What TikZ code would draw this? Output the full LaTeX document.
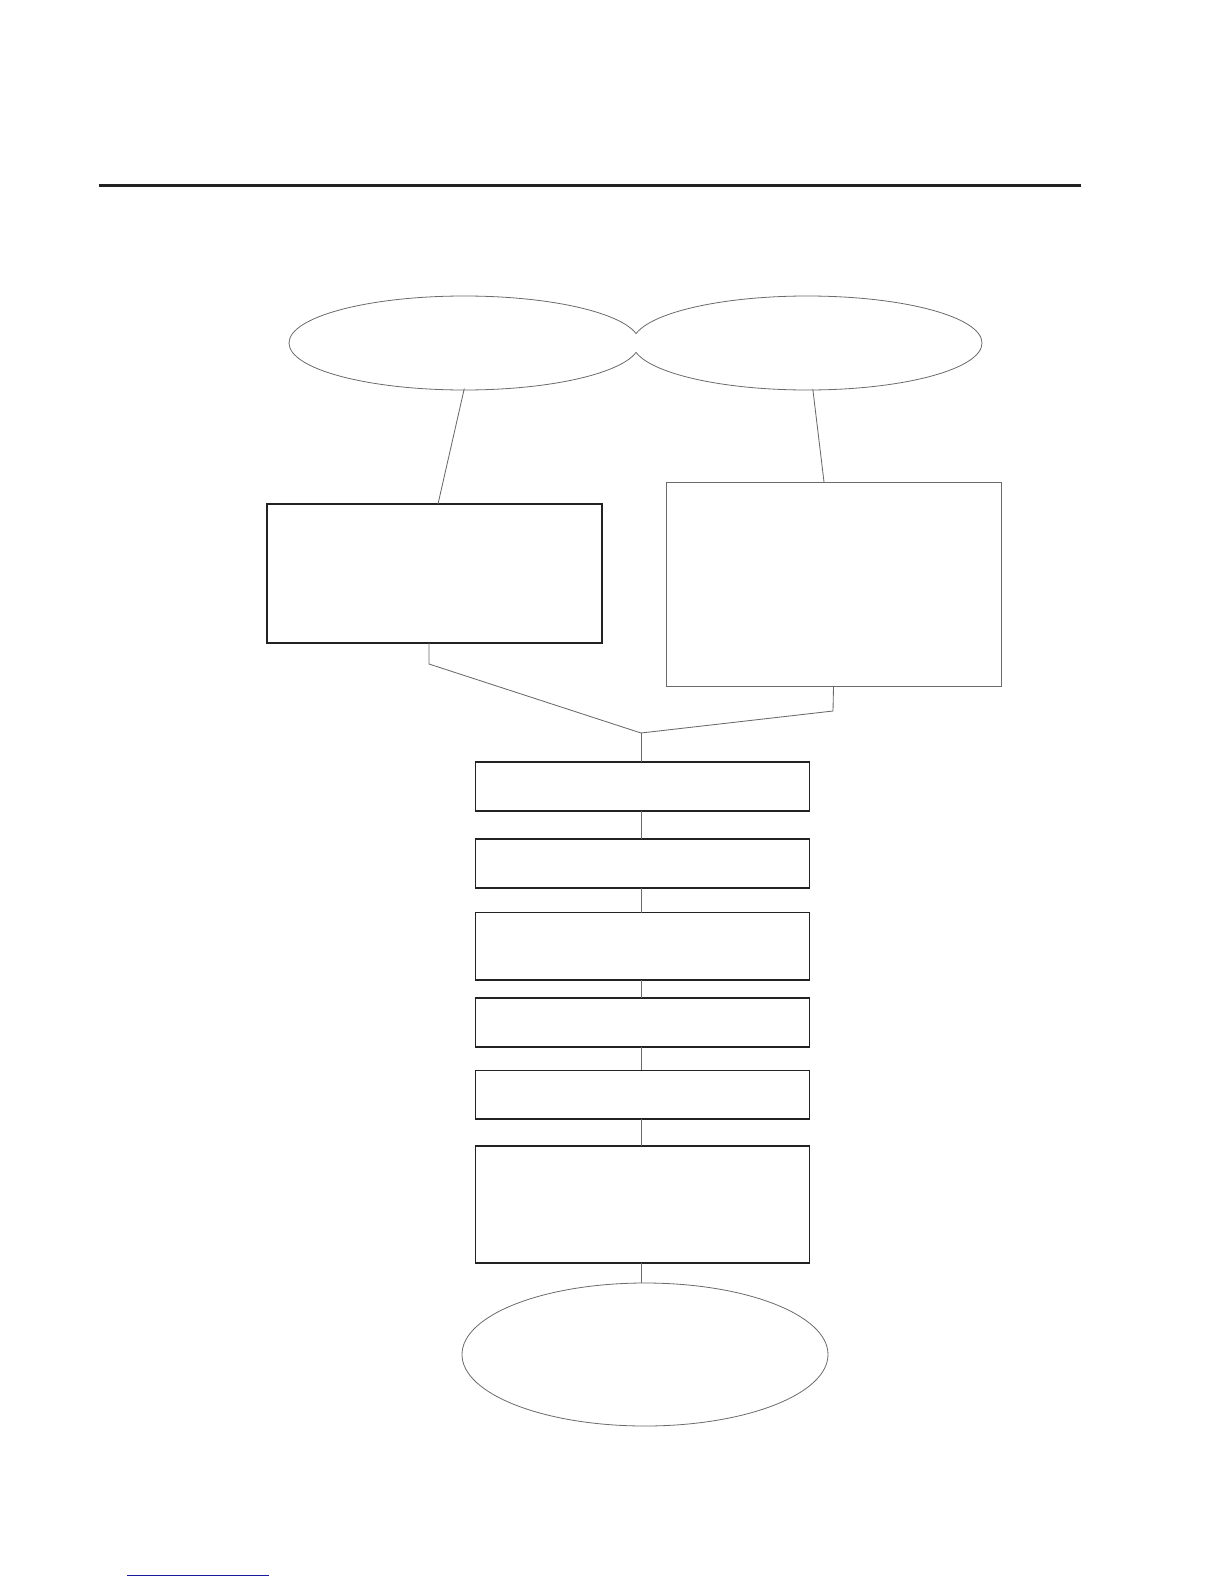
\documentclass[tikz,border=0pt]{standalone}
\usetikzlibrary{shapes.geometric}
\definecolor{ink}{HTML}{222222}
\definecolor{thin}{HTML}{6A6A6A}
\definecolor{linkblue}{HTML}{1A1AA0}
\tikzset{
  oval/.style={ellipse, draw=thin, line width=0.8pt, inner sep=0pt, outer sep=0pt},
  darkbox/.style={rectangle, draw=ink, line width=1.3pt, inner sep=0pt, outer sep=0pt},
  lightbox/.style={rectangle, draw=thin, line width=0.9pt, inner sep=0pt, outer sep=0pt},
  link/.style={draw=thin, line width=0.85pt},
}
\begin{document}
\begin{tikzpicture}[x=1pt,y=-1pt]
\useasboundingbox (0,0) rectangle (1224,1584);
% top rule
\coordinate (ruleL) at (99,185.3);
\coordinate (ruleR) at (1081,185.3);
\draw[ink, line width=3pt] (ruleL) -- (ruleR);
% ellipses (each one's outline hidden inside the other)
\begin{scope}[even odd rule]
  \clip (0,0) rectangle (1224,1584) (807.3,343) ellipse [x radius=174.7, y radius=47];
  \node[oval, minimum width=350.6pt, minimum height=94pt] (elL) at (464.3,343) {};
\end{scope}
\begin{scope}[even odd rule]
  \clip (0,0) rectangle (1224,1584) (464.3,343) ellipse [x radius=175.3, y radius=47];
  \node[oval, minimum width=349.4pt, minimum height=94pt] (elR) at (807.3,343) {};
\end{scope}
% upper boxes
\node[darkbox, minimum width=335pt, minimum height=139pt] (bL) at (434.5,573.5) {};
\node[lightbox, minimum width=335pt, minimum height=204pt] (bR) at (833.5,584) {};
% chain boxes
\node[darkbox, minimum width=334.5pt, minimum height=49pt] (c1) at (642.5,786.5) {};
\node[darkbox, minimum width=334.5pt, minimum height=49pt] (c2) at (642.5,863.5) {};
\node[darkbox, minimum width=334.5pt, minimum height=67.5pt] (c3) at (642.5,946.3) {};
\node[darkbox, minimum width=334.5pt, minimum height=49pt] (c4) at (642.5,1022.5) {};
\node[darkbox, minimum width=334.5pt, minimum height=48.5pt] (c5) at (642.5,1094.7) {};
\node[darkbox, minimum width=334.5pt, minimum height=117pt] (c6) at (642.5,1204.5) {};
% bottom ellipse
\node[oval, minimum width=366pt, minimum height=143pt] (elB) at (645,1354.5) {};
% connectors
\draw[link] ([yshift=1.5pt]elL.south) -- ([xshift=3.5pt]bL.north);
\draw[link] ([xshift=5.5pt,yshift=1pt]elR.south) -- ([xshift=-9.5pt]bR.north);
\coordinate (kL) at (429,664);
\coordinate (kR) at (833,711);
\coordinate (merge) at (641,733);
\draw[link] ([xshift=-5.5pt]bL.south) -- (kL) -- (merge);
\draw[link] (bR.south) -- (kR) -- (merge);
\draw[link] (merge) -- (merge |- c1.north);
\draw[link] (c1.south -| merge) -- (c2.north -| merge);
\draw[link] (c2.south -| merge) -- (c3.north -| merge);
\draw[link] (c3.south -| merge) -- (c4.north -| merge);
\draw[link] (c4.south -| merge) -- (c5.north -| merge);
\draw[link] (c5.south -| merge) -- (c6.north -| merge);
\draw[link] (c6.south -| merge) -- (elB.north -| merge);
% blue rule at bottom
\coordinate (blueL) at (127,1575);
\coordinate (blueR) at (269,1575);
\draw[linkblue, line width=1pt] (blueL) -- (blueR);
\end{tikzpicture}
\end{document}
